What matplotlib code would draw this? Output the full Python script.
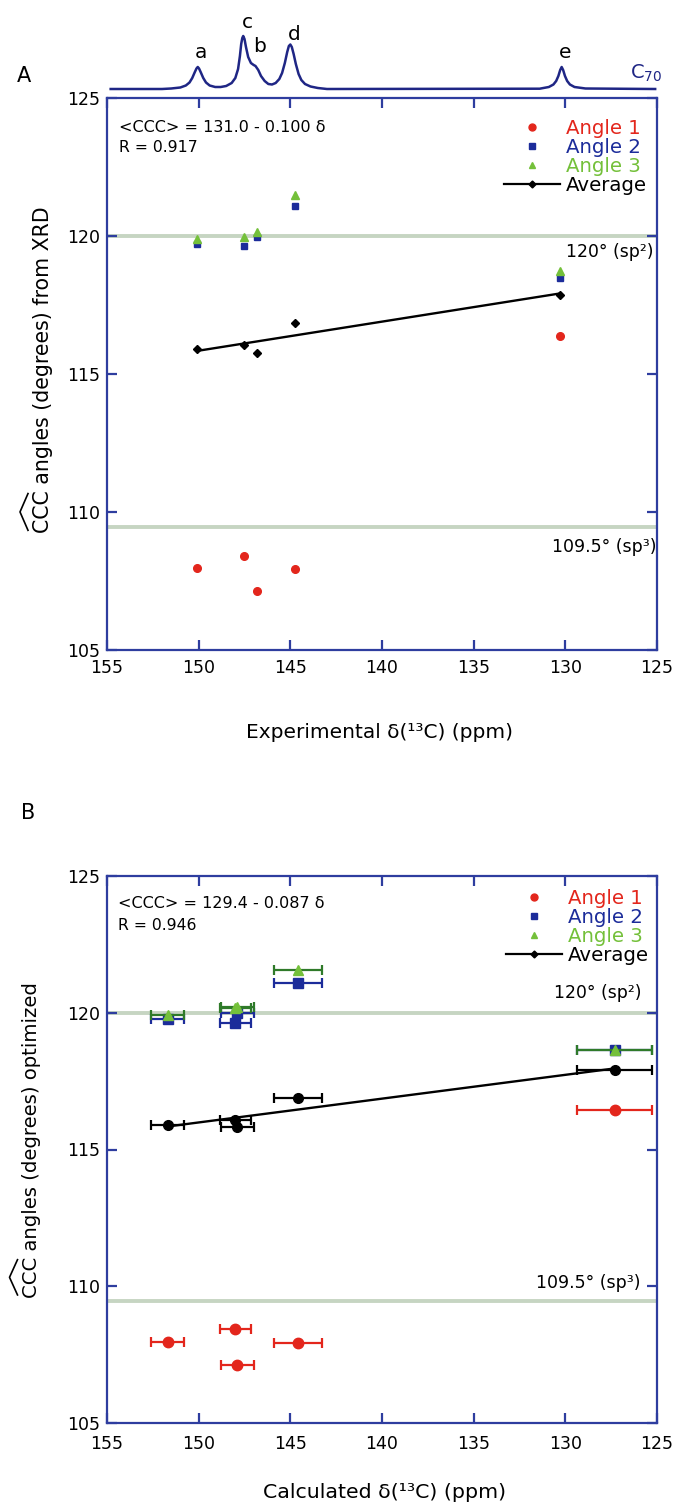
import numpy as np
import matplotlib
matplotlib.use("Agg")
import matplotlib.pyplot as plt
from matplotlib.lines import Line2D

plt.rcParams['font.family'] = ['DejaVu Sans']
plt.rcParams['mathtext.fontset'] = 'dejavusans'

# ---------------- data ----------------
sites = ['a', 'c', 'b', 'd', 'e']
# Panel A: experimental shifts vs XRD angles
shift_exp = [150.07, 147.52, 146.82, 144.77, 130.28]
angle1_xrd = [107.97, 108.41, 107.14, 107.93, 116.39]
angle2_xrd = [119.72, 119.64, 119.96, 121.07, 118.48]
angle3_xrd = [119.88, 119.96, 120.15, 121.50, 118.72]
avg_xrd = [115.89, 116.05, 115.77, 116.86, 117.87]

# Panel B: calculated shifts vs optimized angles
shift_calc = [151.7, 148.0, 147.9, 144.6, 127.3]
shift_calc_err = [0.9, 0.85, 0.9, 1.3, 2.05]
angle1_opt = [107.97, 108.43, 107.11, 107.94, 116.43]
angle2_opt = [119.78, 119.62, 120.00, 121.10, 118.65]
angle3_opt = [119.90, 120.17, 120.20, 121.57, 118.63]
avg_opt = [115.91, 116.09, 115.81, 116.88, 117.91]

# hand-traced 13C spectrum of C70 (ppm, intensity)
spec_ppm = [154.8, 152.0, 151.5, 151.0, 150.7, 150.5, 150.35, 150.22, 150.12, 150.05,
            149.98, 149.88, 149.75, 149.6, 149.4, 149.1, 148.8, 148.5, 148.2, 148.0,
            147.85, 147.75, 147.68, 147.62, 147.57, 147.5, 147.42, 147.3, 147.15, 147.0,
            146.9, 146.75, 146.6, 146.4, 146.2, 146.0, 145.8, 145.6, 145.45, 145.3,
            145.17, 145.08, 145.0, 144.92, 144.82, 144.7, 144.55, 144.4, 144.2, 143.9,
            143.5, 143.0, 131.4, 130.9, 130.65, 130.5, 130.38, 130.28, 130.2, 130.12,
            130.02, 129.9, 129.75, 129.5, 128.9, 125.1]
spec_int = [0, 0, 0.5, 1.5, 3.5, 6.5, 11, 16.5, 20.5, 22,
            20.5, 16.5, 11, 6.5, 3.5, 2, 2, 3, 6, 11,
            20, 33, 45, 51, 53, 50, 42, 32, 26, 24,
            23, 19, 13, 8, 5, 4.5, 6, 10, 16, 26,
            37, 43, 44.5, 42, 35, 25, 15, 9, 5, 2.5,
            1, 0, 0.3, 2, 4.5, 8, 13, 19, 22, 19,
            13, 8, 4.5, 2, 0.5, 0]
peak_labels = ['a', 'c', 'b', 'd', 'e']
peak_label_ppm = [149.85, 147.35, 146.7, 144.8, 130.0]
peak_label_int = [37, 67, 43, 55, 36]

xticks = [155, 150, 145, 140, 135, 130, 125]
yticks = [105, 110, 115, 120, 125]
sp2_angle = 120.0
sp3_angle = 109.47

# ---------------- style ----------------
RED = '#e3261c'
BLUE = '#1c2c9a'
GREEN = '#74c03a'
DKGREEN = '#2f7a2a'
AXBLUE = '#2e3d9f'
HLINE = '#c6d5c2'
SPEC = '#1f2685'

W, H = 683, 1504
fig = plt.figure(figsize=(W / 100, H / 100), dpi=100)
R = fig.canvas.get_renderer()


def fx(px):
    return px / W


def fy(px):
    return 1 - px / H


def fs_for(s, target, vertical=False, base=12.0):
    t = fig.text(0, 0, s, fontsize=base)
    bb = t.get_window_extent(R)
    t.remove()
    return base * target / (bb.height if vertical else bb.width)


AX_L, AX_R = 107, 657
TICK_FS = fs_for('120', 33)
LEG_FS = fs_for('Angle 1', 75)


def style_axes(ax, xpad):
    ax.set_xlim(155, 125)
    ax.set_ylim(105, 125)
    ax.set_xticks(xticks)
    ax.set_yticks(yticks)
    for s in ax.spines.values():
        s.set_color(AXBLUE)
        s.set_linewidth(1.6)
    ax.tick_params(direction='in', top=True, right=True, length=7.5, width=1.6,
                   color=AXBLUE, labelsize=TICK_FS, labelcolor='black')
    ax.tick_params(axis='y', pad=5)
    ax.tick_params(axis='x', pad=xpad)
    ax.axhline(sp2_angle, color=HLINE, lw=2.8, zorder=1)
    ax.axhline(sp3_angle, color=HLINE, lw=2.8, zorder=1)


def legend(ax, anchor):
    handles = [
        Line2D([], [], ls='none', marker='o', color=RED, ms=5),
        Line2D([], [], ls='none', marker='s', color=BLUE, ms=4.5),
        Line2D([], [], ls='none', marker='^', color=GREEN, ms=5),
        Line2D([], [], ls='-', lw=1.6, marker='D', color='black', ms=3.5),
    ]
    ax.legend(handles, ['Angle 1', 'Angle 2', 'Angle 3', 'Average'],
              loc='upper left', bbox_to_anchor=anchor, frameon=False,
              fontsize=LEG_FS, handlelength=2.85, handletextpad=0.27,
              labelspacing=0.0, borderpad=0, borderaxespad=0,
              labelcolor=[RED, BLUE, GREEN, 'black'])


def text_fit(xpx, ypx, s, target, **kw):
    fs = fs_for(s, target)
    return fig.text(fx(xpx), fy(ypx), s, fontsize=fs, **kw)


def ylabel_with_hat(xc, yc, s, target):
    fs = fs_for(s, target)
    t = fig.text(fx(xc), fy(yc), s, fontsize=fs, rotation=90, ha='center', va='center')
    bb = t.get_window_extent(R)
    tmp = fig.text(0, 0, 'CCC', fontsize=fs)
    wc = tmp.get_window_extent(R).width
    tmp.remove()
    x0, y0 = bb.x0, bb.y0
    hx = [x0 - 5, x0 - 13, x0 - 5]
    hy = [y0 + 3, y0 + wc / 2, y0 + wc - 3]
    fig.add_artist(Line2D([v / W for v in hx], [v / H for v in hy],
                          transform=fig.transFigure, color='black', lw=1.2))
    return t


# ---------------- spectrum ----------------
spec_bot = 98
ax_s = fig.add_axes([fx(AX_L), fy(spec_bot), fx(AX_R - AX_L), spec_bot / H])
ax_s.plot(spec_ppm, spec_int, color=SPEC, lw=1.8)
ax_s.set_xlim(155, 125)
ax_s.set_ylim(-9, 89)
ax_s.axis('off')
for lab, xp, yp in zip(peak_labels, peak_label_ppm, peak_label_int):
    ax_s.text(xp, yp, lab, ha='center', va='center', fontsize=14.5)
fig.text(fx(630), fy(73), 'C$_{70}$', color=SPEC, fontsize=14, ha='left', va='center')

# ---------------- panel A ----------------
A_top, A_bot = 98, 650
axA = fig.add_axes([fx(AX_L), fy(A_bot), fx(AX_R - AX_L), (A_bot - A_top) / H])
style_axes(axA, 6.5)
kA = np.polyfit(shift_exp, avg_xrd, 1)
xs = np.array([max(shift_exp), min(shift_exp)])
axA.plot(xs, np.polyval(kA, xs), color='black', lw=1.7, zorder=3)
axA.plot(shift_exp, angle1_xrd, 'o', color=RED, ms=5.5, zorder=4)
axA.plot(shift_exp, angle2_xrd, 's', color=BLUE, ms=5, zorder=4)
axA.plot(shift_exp, angle3_xrd, '^', color=GREEN, ms=5.5, zorder=5)
axA.plot(shift_exp, avg_xrd, 'D', color='black', ms=4, zorder=5)
legend(axA, ((504 - AX_L) / 550, (A_bot - 119) / (A_bot - A_top)))

text_fit(119, 128, '<CCC> = 131.0 - 0.100 δ', 205, va='center')
text_fit(119, 147, 'R = 0.917', 78, va='center')
text_fit(653, 252, '120° (sp²)', 87, va='center', ha='right')
text_fit(656, 547, '109.5° (sp³)', 104, va='center', ha='right')
text_fit(380, 733, 'Experimental δ(¹³C) (ppm)', 265, va='center', ha='center')
ylabel_with_hat(43, 370, 'CCC angles (degrees) from XRD', 326)
fig.text(fx(24), fy(76), 'A', fontsize=15, va='center', ha='center')

# ---------------- panel B ----------------
B_top, B_bot = 876, 1423
axB = fig.add_axes([fx(AX_L), fy(B_bot), fx(AX_R - AX_L), (B_bot - B_top) / H])
style_axes(axB, 8.5)
kB = np.polyfit(shift_calc, avg_opt, 1)
xs = np.array([max(shift_calc), min(shift_calc)])
axB.plot(xs, np.polyval(kB, xs), color='black', lw=1.7, zorder=3)
eb = dict(capsize=3.5, elinewidth=1.6, capthick=1.6, ls='none')
axB.errorbar(shift_calc, angle1_opt, xerr=shift_calc_err, marker='o', color=RED,
             ms=7.5, zorder=4, **eb)
axB.errorbar(shift_calc, angle2_opt, xerr=shift_calc_err, marker='s', color=BLUE,
             ms=6.5, zorder=4, **eb)
axB.errorbar(shift_calc, angle3_opt, xerr=shift_calc_err, marker='^', color=GREEN,
             ecolor=DKGREEN, ms=7.5, zorder=5, **eb)
axB.errorbar(shift_calc, avg_opt, xerr=shift_calc_err, marker='o', color='black',
             ms=7, zorder=5, **eb)
legend(axB, ((506 - AX_L) / 550, (B_bot - 889) / (B_bot - B_top)))

text_fit(118, 904, '<CCC> = 129.4 - 0.087 δ', 205, va='center')
text_fit(118, 926, 'R = 0.946', 78, va='center')
text_fit(641, 993, '120° (sp²)', 87, va='center', ha='right')
text_fit(640, 1283, '109.5° (sp³)', 104, va='center', ha='right')
text_fit(385, 1493, 'Calculated δ(¹³C) (ppm)', 241, va='center', ha='center')
ylabel_with_hat(32, 1140, 'CCC angles (degrees) optimized', 315)
fig.text(fx(28), fy(813), 'B', fontsize=15, va='center', ha='center')

fig.savefig('out.png', dpi=100, facecolor='white')
